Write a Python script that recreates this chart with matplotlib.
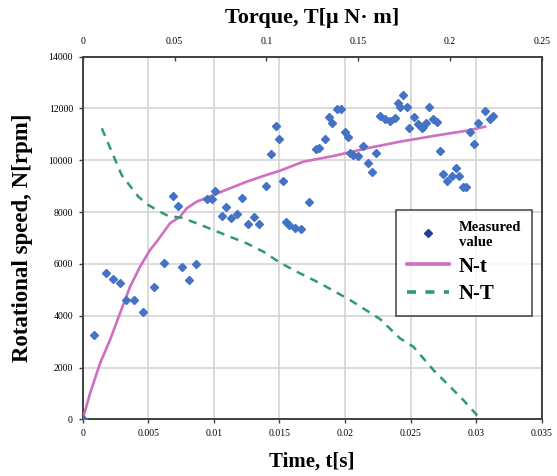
import matplotlib
matplotlib.use("Agg")
import matplotlib.pyplot as plt
from matplotlib.lines import Line2D
from matplotlib.ticker import FuncFormatter, MultipleLocator

plt.rcParams["font.family"] = ["Liberation Serif", "DejaVu Serif"]

# ── data ────────────────────────────────────────────────────────────
# measured points: time [s], speed [rpm]
meas_t = [0.0, 0.00089, 0.00175, 0.00233, 0.00282, 0.00330, 0.00393, 0.00462,
          0.00546, 0.00622, 0.00757, 0.00808, 0.00866, 0.00689, 0.00727,
          0.00946, 0.00984, 0.01011, 0.01217, 0.01090, 0.01062, 0.01133,
          0.01179, 0.01306, 0.01263, 0.01347, 0.01550, 0.01575, 0.01619,
          0.01665, 0.01723, 0.01472, 0.01497, 0.01434, 0.01398, 0.01527,
          0.01779, 0.01804, 0.01848, 0.01878, 0.01903, 0.01937, 0.01967,
          0.02000, 0.02025, 0.02038, 0.02063, 0.02101, 0.02140, 0.02178,
          0.02204, 0.02236, 0.02267, 0.02305, 0.02343, 0.02381, 0.02406,
          0.02419, 0.02445, 0.02471, 0.02490, 0.02528, 0.02559, 0.02585,
          0.02592, 0.02618, 0.02641, 0.02673, 0.02699, 0.02724, 0.02750,
          0.02775, 0.02814, 0.02844, 0.02872, 0.02902, 0.02920, 0.02953,
          0.02986, 0.03016, 0.03068, 0.03106, 0.03131]
meas_n = [0, 3255, 5637, 5417, 5251, 4594, 4594, 4154,
          5097, 6035, 5869, 5367, 6008, 8620, 8245,
          8494, 8494, 8802, 8554, 8195, 7848, 7759,
          7937, 7799, 7541, 7529, 7629, 7502, 7374,
          7359, 8378, 11336, 10811, 10232, 9008, 9201,
          10425, 10463, 10811, 11683, 11428, 11969, 11992,
          11104, 10888, 10293, 10203, 10165, 10551, 9906,
          9559, 10270, 11719, 11594, 11528, 11644, 12200,
          12069, 12521, 12069, 11258, 11683, 11390, 11235,
          11297, 11429, 12069, 11583, 11490, 10358, 9458,
          9200, 9394, 9689, 9394, 8981, 8981, 11104,
          10629, 11429, 11915, 11583, 11722]

# N-t curve
nt_t = [0.0, 0.00056, 0.00132, 0.00208, 0.00284, 0.00361, 0.00437, 0.00513,
        0.00564, 0.00666, 0.00742, 0.00793, 0.00869, 0.00996, 0.01123,
        0.01251, 0.01377, 0.01504, 0.01682, 0.01911, 0.02166, 0.02419,
        0.02673, 0.02928, 0.03068]
nt_n = [0, 1004, 2162, 3061, 4092, 5119, 5891, 6536,
        6857, 7568, 7822, 8147, 8401, 8660, 8919,
        9174, 9394, 9598, 9946, 10166, 10463, 10718,
        10938, 11143, 11297]

# N-T curve: torque [uN m], speed [rpm]
nT_T = [0.0104, 0.0212, 0.0303, 0.0357, 0.0421, 0.0466, 0.0539, 0.0621,
        0.0711, 0.0802, 0.0893, 0.0984, 0.1075, 0.1166, 0.1293, 0.1456,
        0.1619, 0.1728, 0.1801, 0.1910, 0.2001, 0.2073, 0.2155]
nT_n = [11235, 9432, 8594, 8274, 8015, 7849, 7783, 7567,
        7309, 7050, 6795, 6471, 6046, 5699, 5251, 4606,
        3873, 3127, 2803, 1903, 1259, 745, 100]

# ── colours ─────────────────────────────────────────────────────────
PT_BLUE = "#4472C4"
LEG_BLUE = "#25408F"
PINK = "#CF6FC0"
GREEN = "#2F9B6C"
GRID = "#D4D4D4"
SPINE = "#404040"

fig = plt.figure(figsize=(5.57, 4.76), dpi=100)
ax = fig.add_axes([0.1485, 0.1191, 0.824, 0.7618])

ax.plot(nt_t, nt_n, color=PINK, lw=1.9, zorder=3)
ax.plot(meas_t, meas_n, ls="none", marker="D", ms=4.3, color=PT_BLUE,
        mec=PT_BLUE, zorder=4)

ax.set_xlim(0, 0.035)
ax.set_ylim(0, 14000)
ax.xaxis.set_major_locator(MultipleLocator(0.005))
ax.yaxis.set_major_locator(MultipleLocator(2000))
fmt = FuncFormatter(lambda v, p: "%g" % round(v, 6))
ax.xaxis.set_major_formatter(fmt)
ax.yaxis.set_major_formatter(FuncFormatter(lambda v, p: "%d" % v))
ax.grid(True, color=GRID, lw=1.2, zorder=0)
ax.set_axisbelow(True)
ax.tick_params(labelsize=7, length=3, width=1, color=SPINE, pad=4)
for s in ax.spines.values():
    s.set_color(SPINE)
    s.set_linewidth(1.4)

ax.set_xlabel("Time, t[s]", fontsize=15, fontweight="bold", labelpad=10)
ax.set_ylabel("Rotational speed, N[rpm]", fontsize=16.5, fontweight="bold",
              labelpad=11)

# top axis: torque
ax2 = ax.twiny()
ax2.plot(nT_T, nT_n, color=GREEN, lw=1.8, dashes=(3.3, 2.7), zorder=3)
ax2.set_xlim(0, 0.25)
ax2.xaxis.set_major_locator(MultipleLocator(0.05))
ax2.xaxis.set_major_formatter(fmt)
ax2.tick_params(labelsize=7, length=3, width=1, color=SPINE, direction="in", pad=8)
ax2.set_xlabel("Torque, T[\u03bc N\u00b7 m]", fontsize=16, fontweight="bold",
               labelpad=10)
for s in ax2.spines.values():
    s.set_visible(False)

handles = [
    Line2D([], [], ls="none", marker="D", ms=4, color=LEG_BLUE),
    Line2D([], [], color=PINK, lw=2.6),
    Line2D([], [], color=GREEN, lw=2.6, dashes=(2.5, 2.6)),
]
labels = ["Measured\nvalue", "N-t", "N-T"]
leg = ax2.legend(handles, labels, loc="upper left",
                 bbox_to_anchor=(0.6826, 0.5772), frameon=True, fancybox=False,
                 edgecolor="#222222", prop={"size": 15, "weight": "bold"},
                 handlelength=2.0, handletextpad=0.45, borderpad=0.55,
                 labelspacing=0.35, borderaxespad=0)
leg.get_frame().set_linewidth(1.2)
leg.get_texts()[0].set_fontsize(10.5)

fig.savefig("out.png", dpi=100)
